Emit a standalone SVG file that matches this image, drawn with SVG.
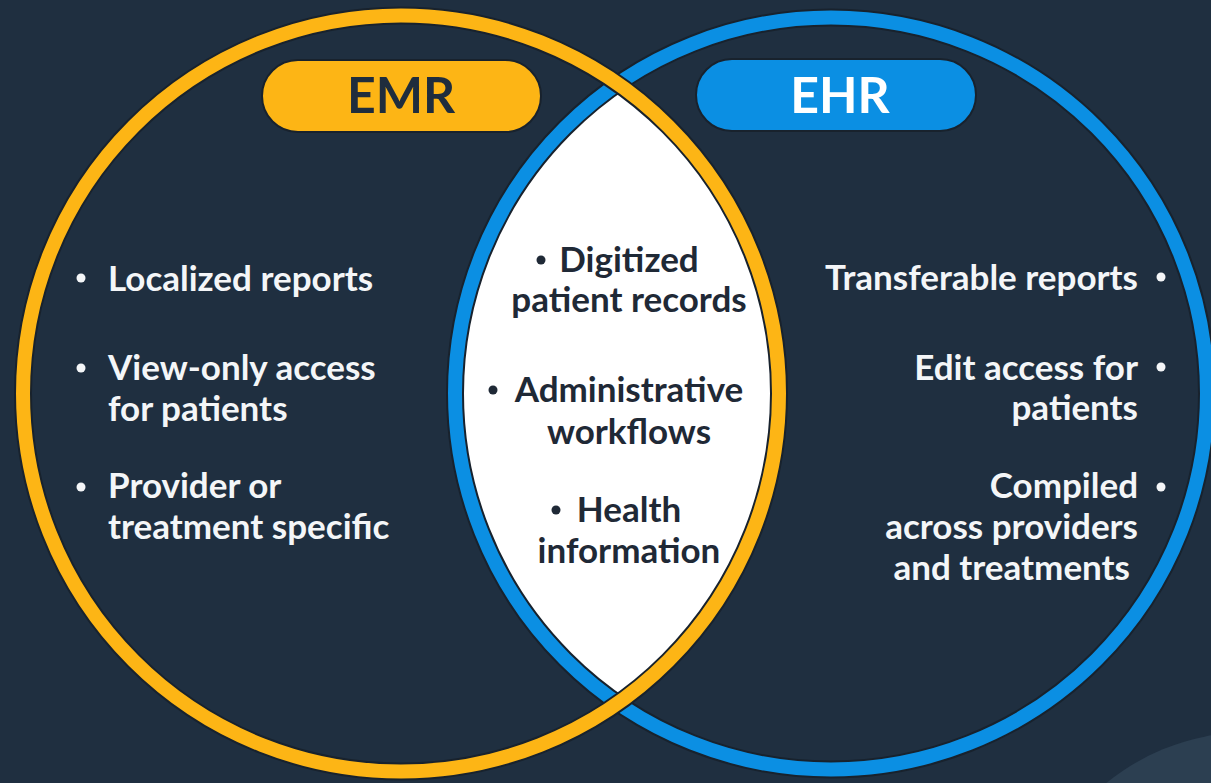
<svg xmlns="http://www.w3.org/2000/svg" width="1211" height="783" viewBox="0 0 1211 783">
<style>
  .t { font-family: Lato, "Liberation Sans", sans-serif; font-weight: 700; font-size: 35px; }
  .w { fill: #f4f6f8; }
  .d { fill: #1f2936; }
  .bw { fill: #f4f6f8; }
  .bd { fill: #1f2936; }
  .lbl { font-family: Lato, "Liberation Sans", sans-serif; font-weight: 700; font-size: 50px; text-anchor: middle; }
</style>
<rect width="1211" height="783" fill="#1f2f40"/>
<circle cx="1250" cy="960" r="228" fill="#2c3f51"/>
<g id="lens">
  <path d="M 617.75 83.8 A 376 376 0 0 0 617.75 703.2 A 378 378 0 0 0 617.75 83.8 Z" fill="#ffffff"/>
</g>
<g id="ehr-circle">
  <circle cx="831" cy="393.5" r="376" fill="none" stroke="#18222d" stroke-width="18"/>
  <circle cx="831" cy="393.5" r="376" fill="none" stroke="#0b8fe3" stroke-width="14"/>
</g>
<g id="emr-circle">
  <circle cx="401" cy="393.5" r="378" fill="none" stroke="#18222d" stroke-width="18"/>
  <circle cx="401" cy="393.5" r="378" fill="none" stroke="#fdb515" stroke-width="14"/>
</g>
<g id="emr-label">
  <rect x="262" y="60" width="279" height="72" rx="36" fill="#fdb515" stroke="#18222d" stroke-width="2"/>
  <text class="lbl" x="401" y="113" fill="#1f2d3d">EMR</text>
</g>
<g id="ehr-label">
  <rect x="696" y="59" width="280" height="72" rx="36" fill="#0b8fe3" stroke="#18222d" stroke-width="2"/>
  <text class="lbl" x="840" y="113" fill="#ffffff">EHR</text>
</g>
<g id="emr-items" class="t w">
  <circle class="bw" cx="81" cy="278" r="4.5"/>
  <text x="108" y="291">Localized reports</text>
  <circle class="bw" cx="81" cy="368" r="4.5"/>
  <text x="108" y="380">View-only access</text>
  <text x="108" y="421">for patients</text>
  <circle class="bw" cx="81" cy="487" r="4.5"/>
  <text x="108" y="498">Provider or</text>
  <text x="108" y="539">treatment specific</text>
</g>
<g id="shared-items" class="t d">
  <circle class="bd" cx="541" cy="260" r="4.5"/>
  <text x="629" y="272" text-anchor="middle">Digitized</text>
  <text x="629" y="312" text-anchor="middle">patient records</text>
  <circle class="bd" cx="493" cy="390" r="4.5"/>
  <text x="629" y="402" text-anchor="middle">Administrative</text>
  <text x="629" y="444" text-anchor="middle">workflows</text>
  <circle class="bd" cx="556" cy="510" r="4.5"/>
  <text x="629" y="522" text-anchor="middle">Health</text>
  <text x="629" y="563" text-anchor="middle">information</text>
</g>
<g id="ehr-items" class="t w">
  <text x="1138" y="290" text-anchor="end">Transferable reports</text>
  <circle class="bw" cx="1161" cy="277" r="4.5"/>
  <text x="1138" y="380" text-anchor="end">Edit access for</text>
  <circle class="bw" cx="1161" cy="367" r="4.5"/>
  <text x="1138" y="420" text-anchor="end">patients</text>
  <text x="1138" y="498" text-anchor="end">Compiled</text>
  <circle class="bw" cx="1161" cy="487" r="4.5"/>
  <text x="1138" y="539" text-anchor="end">across providers</text>
  <text x="1130" y="580" text-anchor="end">and treatments</text>
</g>
</svg>
